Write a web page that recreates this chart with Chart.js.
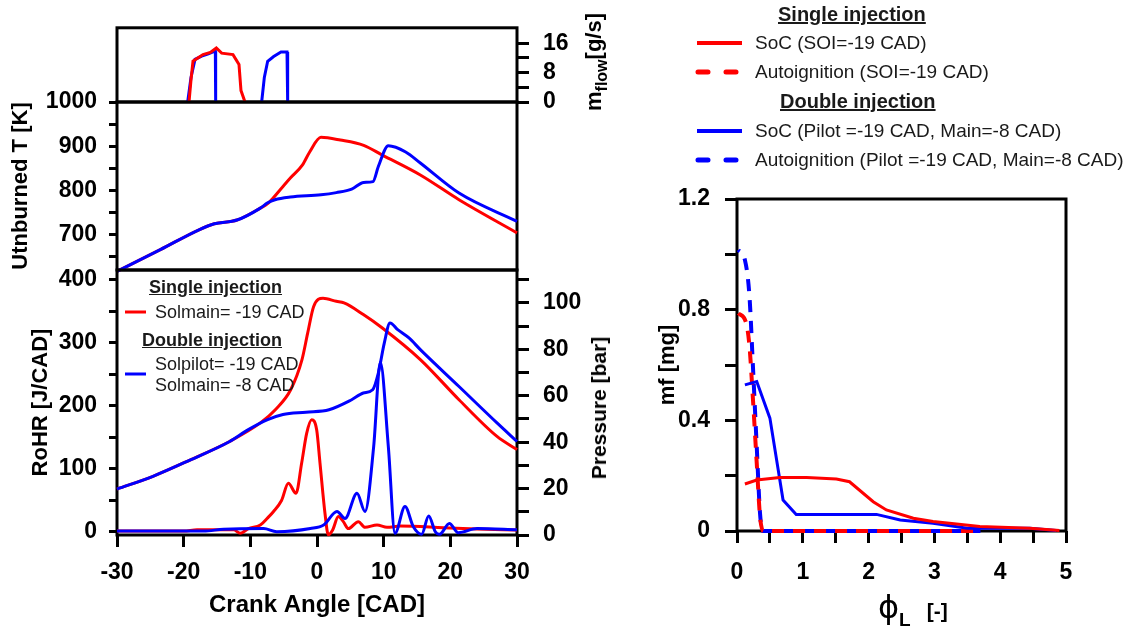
<!DOCTYPE html>
<html>
<head>
<meta charset="utf-8">
<script src="https://cdn.jsdelivr.net/npm/chart.js@4"></script>
<style>
  body { margin: 0; background: #fff; }
  #lienzo { position: relative; width: 1139px; height: 628px; overflow: hidden; font-family: "Liberation Sans", Arial, sans-serif; }
  canvas { position: absolute; left: 0; top: 0; }
  .txt { position: absolute; white-space: nowrap; color: #1a1a1a; line-height: 20px; }
  .tit { font-weight: bold; text-decoration: underline; }
  .rot { position: absolute; white-space: nowrap; font-weight: bold; color: #000; transform: translate(-50%, -50%) rotate(-90deg); }
  svg.muestra { position: absolute; overflow: visible; }
</style>
</head>
<body>
<div id="lienzo">
  <canvas id="gFlujo" width="1139" height="628"></canvas>
  <canvas id="gTemp" width="1139" height="628"></canvas>
  <canvas id="gCalor" width="1139" height="628"></canvas>
  <canvas id="gMasa" width="1139" height="628"></canvas>

  <!-- leyenda del panel de calor -->
  <div class="txt tit" style="left:149px; top:277px; font-size:18px;">Single injection</div>
  <svg class="muestra" style="left:0; top:0;" width="1" height="1">
    <line x1="125" y1="312" x2="146" y2="312" stroke="#ff0000" stroke-width="3"/>
    <line x1="125" y1="374" x2="146" y2="374" stroke="#0000ff" stroke-width="3"/>
  </svg>
  <div class="txt" style="left:155px; top:302px; font-size:18px;">Solmain= -19 CAD</div>
  <div class="txt tit" style="left:142px; top:330px; font-size:18px;">Double injection</div>
  <div class="txt" style="left:155px; top:354px; font-size:18px;">Solpilot= -19 CAD</div>
  <div class="txt" style="left:155px; top:375px; font-size:18px;">Solmain= -8 CAD</div>

  <!-- leyenda del panel derecho -->
  <div class="txt tit" style="left:778px; top:4px; font-size:20px;">Single injection</div>
  <svg class="muestra" style="left:0; top:0;" width="1" height="1">
    <line x1="697" y1="43" x2="742" y2="43" stroke="#ff0000" stroke-width="4"/>
    <line x1="698" y1="72" x2="742" y2="72" stroke="#ff0000" stroke-width="5" stroke-dasharray="10 18" stroke-linecap="round"/>
    <line x1="697" y1="131" x2="742" y2="131" stroke="#0000ff" stroke-width="4"/>
    <line x1="698" y1="160" x2="742" y2="160" stroke="#0000ff" stroke-width="5" stroke-dasharray="10 18" stroke-linecap="round"/>
  </svg>
  <div class="txt" style="left:755px; top:33px; font-size:19px;">SoC (SOI=-19 CAD)</div>
  <div class="txt" style="left:755px; top:62px; font-size:19px;">Autoignition (SOI=-19 CAD)</div>
  <div class="txt tit" style="left:780px; top:91px; font-size:20px;">Double injection</div>
  <div class="txt" style="left:755px; top:121px; font-size:19px;">SoC (Pilot =-19 CAD, Main=-8 CAD)</div>
  <div class="txt" style="left:755px; top:150px; font-size:19px;">Autoignition (Pilot =-19 CAD, Main=-8 CAD)</div>

  <!-- titulos de ejes que se leen de abajo hacia arriba -->
  <div class="rot" style="left:596px; top:62px; font-size:22px;">m<sub style="font-size:16px;">flow</sub>[g/s]</div>
  <div class="rot" style="left:599px; top:408px; font-size:21px;">Pressure [bar]</div>
  <div class="txt" style="left:878px; top:592px; line-height:30px; color:#000;">
    <span style="font-family:'DejaVu Sans'; font-size:32px;">&#981;</span><span style="font-weight:bold; font-size:19px; position:relative; top:8px;">L</span><span style="font-weight:bold; font-size:21px; margin-left:16px;">[-]</span>
  </div>
</div>

<script>
// Datos: caudal inyectado (g/s) vs angulo de ciguenal
const anguloFlujoSimple = [-19.2, -18.9, -18.6, -17.1, -16.0, -15.1, -14.3, -12.6, -11.7, -11.4, -10.8];
const flujoSimple = [0, 6, 11.1, 12.9, 13.5, 14.7, 13.3, 12.9, 10.2, 3.1, 0];
const anguloFlujoDoble = [-19.4, -18.9, -18.3, -17.3, -16.3, -15.4, -15.25, -15.2, null, -8.3, -7.9, -7.4, -6.5, -5.4, -4.5, -4.4];
const flujoDoble = [0, 6.7, 11.6, 12.5, 13.1, 13.8, 13.8, 0, null, 0, 6.7, 11.1, 12.4, 13.6, 13.6, 0];

// Temperatura sin quemar (K)
const anguloTempSimple = [-30, -23.5, -17.7, -15.4, -12, -8.5, -7.4, -5.1, -4, -2.2, -1.1, 0.6, 3.5, 7, 9.8, 15.5, 21.3, 30];
const tempSimple = [617, 666, 711, 724.5, 733, 760, 770, 809, 828, 857, 887, 920, 914, 902, 880, 835, 779, 704];
const anguloTempDoble = [-30, -23.5, -17.7, -15.4, -12, -8.5, -7.4, -6.3, -4, 0.6, 2.9, 5.2, 7, 8.4, 9.2, 10.7, 13.3, 15.5, 21.3, 30];
const tempDoble = [617, 666, 711, 724.5, 733, 760, 772, 779, 785, 790, 795, 803, 818, 820, 854, 901, 887, 862, 794, 730];

// Tasa de liberacion de calor (J/CAD)
const anguloCalorSimple = [-30, -20, -18, -12.5, -11.5, -10.3, -8.5, -7.4, -6.55, -5.3, -4.3, -3.15, -2.3, -1.55, -0.8, -0.05, 0.45, 1.2, 1.7, 2.35, 3.2, 3.95, 4.7, 6.2, 7.2, 9, 10.5, 12.5, 19, 24, 30];
const calorSimple = [1, 1, 3, 3, -2.5, 5, 10.6, 22, 31.8, 50, 77, 61, 109, 156, 177.6, 161.7, 109, 29, -5, 2.7, 24, 16, 5, 16, 7, 10.6, 7, 9, 6.4, 4.3, 2.7];
const anguloCalorDoble = [-30, -17, -14, -8, -6.05, -1, 1, 3, 4.2, 6, 7.2, 8.5, 9.5, 10.7, 11.7, 13.2, 14.45, 15.7, 16.75, 17.75, 18.4, 19.85, 21.2, 24, 30];
const calorDoble = [1, 1, 4, 5, 0, 5, 10.6, 32, 21, 61, 32, 135, 269, 135, -2.5, 40, 8, -4, 25, 0, -4, 13, -1.5, 5, 3];

// Presion en cilindro (bar)
const anguloPresionSimple = [-30, -24.6, -18.9, -13.1, -8.5, -6.25, -3.95, -2.25, -1.4, -0.5, 0.9, 2.9, 4.05, 6.95, 9.8, 15.5, 21.3, 27, 30];
const presionSimple = [19.8, 25.3, 32.5, 40.3, 48.3, 54, 62.6, 75.6, 87, 98.5, 102, 100.7, 100, 95, 89.2, 75.6, 58.3, 42.5, 36.8];
const anguloPresionDoble = [-30, -24.6, -18.9, -13.1, -10.3, -7.4, -5.1, -1.65, 1.8, 5.2, 6.95, 8.35, 9.2, 10.1, 10.95, 12.1, 13.8, 15.5, 21.3, 27, 30];
const presionDoble = [19.8, 25.3, 32.5, 40.3, 45.4, 49.7, 51.9, 52.9, 54, 58.3, 61.2, 62.6, 69.8, 82.8, 91.4, 88.5, 84.9, 79.9, 64, 48.3, 40.3];

// Masa de combustible (mg) vs dosado local phi_L
const phiSocSimple = [0.12, 0.3, 0.65, 1.06, 1.51, 1.71, 2.07, 2.27, 2.68, 2.98, 3.69, 4.45, 4.9];
const masaSocSimple = [0.17, 0.184, 0.193, 0.193, 0.188, 0.178, 0.106, 0.076, 0.046, 0.034, 0.016, 0.01, 0.002];
const phiSocDoble = [0.12, 0.3, 0.5, 0.7, 0.9, 2.12, 2.48, 2.98, 3.5, 4.45, 4.85];
const masaSocDoble = [0.528, 0.54, 0.408, 0.112, 0.06, 0.06, 0.04, 0.028, 0.01, 0.01, 0.002];
const phiAutoSimple = [0.02, 0.14, 0.19, 0.24, 0.3, 0.35, 0.4, 3.7];
const masaAutoSimple = [0.787, 0.751, 0.667, 0.486, 0.245, 0.052, 0, 0];
const phiAutoDoble = [0.02, 0.12, 0.19, 0.24, 0.3, 0.35, 0.39, 3.7];
const masaAutoDoble = [1.016, 0.98, 0.847, 0.606, 0.305, 0.064, 0, 0];

// Marcas de los ejes
const marcasAngulo = [-30, -20, -10, 0, 10, 20, 30];
const marcasFlujo = [0, 4, 8, 12, 16];
const etiquetasFlujo = [0, 8, 16];
const marcasTemp = [650, 700, 750, 800, 850, 900, 950, 1000];
const etiquetasTemp = [700, 800, 900, 1000];
const marcasCalor = [0, 50, 100, 150, 200, 250, 300, 350, 400];
const etiquetasCalor = [0, 100, 200, 300, 400];
const marcasPresion = [0, 10, 20, 30, 40, 50, 60, 70, 80, 90, 100, 110];
const etiquetasPresion = [0, 20, 40, 60, 80, 100];
const marcasPhi = [0, 0.5, 1, 1.5, 2, 2.5, 3, 3.5, 4, 4.5, 5];
const etiquetasPhi = [0, 1, 2, 3, 4, 5];
const marcasMasa = [0, 0.2, 0.4, 0.6, 0.8, 1.0, 1.2];
const etiquetasMasa = [0, 0.4, 0.8, 1.2];

const ROJO = "#ff0000";
const AZUL = "#0000ff";
const fuenteEje = { size: 23, weight: "bold" };

Chart.defaults.font.family = "'Liberation Sans', Arial, sans-serif";
Chart.defaults.color = "#000";

function puntos(xs, ys) {
  return xs.map((x, i) => (x === null ? { x: NaN, y: null } : { x: x, y: ys[i] }));
}

// Dibuja el recuadro negro alrededor del area del grafico (debajo de las curvas)
const marco = {
  id: "marco",
  beforeDatasetsDraw(chart) {
    const { ctx, chartArea: a } = chart;
    ctx.save();
    ctx.strokeStyle = "#000";
    ctx.lineWidth = 3;
    ctx.strokeRect(a.left, a.top, a.right - a.left, a.bottom - a.top);
    ctx.restore();
  }
};

function serie(data, color, extra) {
  return Object.assign({
    data: data,
    borderColor: color,
    borderWidth: 3,
    pointRadius: 0,
    fill: false,
    spanGaps: false,
    clip: 4,
    cubicInterpolationMode: "monotone"
  }, extra || {});
}

// Eje con marcas fijas y ancho/alto fijo
function eje(pos, min, max, marcas, etiquetas, tam, largo, relleno, titulo) {
  const vertical = pos === "left" || pos === "right";
  return {
    type: "linear",
    position: pos,
    min: min,
    max: max,
    display: true,
    afterBuildTicks: s => { s.ticks = marcas.map(v => ({ value: v })); },
    afterFit: s => { if (vertical) s.width = tam; else s.height = tam; },
    grid: { drawOnChartArea: false, drawTicks: true, tickLength: largo, tickWidth: 3, tickColor: "#000" },
    border: { display: false },
    ticks: {
      autoSkip: false,
      maxRotation: 0,
      minRotation: 0,
      padding: relleno,
      color: "#000",
      font: fuenteEje,
      callback: v => (etiquetas.some(e => Math.abs(e - v) < 1e-9) ? String(v) : "")
    },
    title: titulo || { display: false }
  };
}

function ejeOculto(min, max) {
  return { type: "linear", min: min, max: max, display: false };
}

const opcionesBase = {
  responsive: false,
  animation: false,
  plugins: { legend: { display: false }, tooltip: { enabled: false } }
};

// Panel superior: caudal de inyeccion
new Chart(document.getElementById("gFlujo"), {
  type: "line",
  data: {
    datasets: [
      serie(puntos(anguloFlujoSimple, flujoSimple), ROJO, { cubicInterpolationMode: "default", tension: 0, clip: 1 }),
      serie(puntos(anguloFlujoDoble, flujoDoble), AZUL, { cubicInterpolationMode: "default", tension: 0, clip: 1 })
    ]
  },
  options: Object.assign({}, opcionesBase, {
    layout: { padding: { left: 117, right: 1139 - 517 - 60, top: 26, bottom: 628 - 102 } },
    scales: {
      x: ejeOculto(-30, 30),
      y: eje("right", 0, 20.2, marcasFlujo, etiquetasFlujo, 60, 12, 14)
    }
  }),
  plugins: [marco]
});

// Panel medio: temperatura sin quemar
new Chart(document.getElementById("gTemp"), {
  type: "line",
  data: {
    datasets: [
      serie(puntos(anguloTempDoble, tempDoble), AZUL),
      serie(puntos(anguloTempSimple, tempSimple), ROJO)
    ]
  },
  options: Object.assign({}, opcionesBase, {
    layout: { padding: { left: 0, right: 1139 - 517, top: 102, bottom: 628 - 270 } },
    scales: {
      x: ejeOculto(-30, 30),
      y: eje("left", 620, 1000, marcasTemp, etiquetasTemp, 117, 8, 12,
        { display: true, text: "Utnburned T [K]", font: { size: 22, weight: "bold" }, color: "#000", padding: { top: 8, bottom: 0 } })
    }
  }),
  plugins: [marco]
});

// Panel inferior: liberacion de calor y presion
new Chart(document.getElementById("gCalor"), {
  type: "line",
  data: {
    datasets: [
      serie(puntos(anguloPresionDoble, presionDoble), AZUL, { yAxisID: "y2" }),
      serie(puntos(anguloPresionSimple, presionSimple), ROJO, { yAxisID: "y2" }),
      serie(puntos(anguloCalorDoble, calorDoble), AZUL, { yAxisID: "y" }),
      serie(puntos(anguloCalorSimple, calorSimple), ROJO, { yAxisID: "y" })
    ]
  },
  options: Object.assign({}, opcionesBase, {
    layout: { padding: { left: 0, right: 1139 - 517 - 80, top: 270, bottom: 0 } },
    scales: {
      x: eje("bottom", -30, 30, marcasAngulo, marcasAngulo, 93, 12, 12,
        { display: true, text: "Crank Angle [CAD]", font: { size: 24, weight: "bold" }, color: "#000", padding: { top: 0, bottom: 8 } }),
      y: eje("left", -5.2, 415.3, marcasCalor, etiquetasCalor, 117, 8, 12,
        { display: true, text: "RoHR [J/CAD]", font: { size: 22, weight: "bold" }, color: "#000", padding: { top: 28, bottom: 0 } }),
      y2: eje("right", 0, 114.2, marcasPresion, etiquetasPresion, 80, 12, 14)
    }
  }),
  plugins: [marco]
});

// Panel derecho: masa de combustible vs phi_L
new Chart(document.getElementById("gMasa"), {
  type: "line",
  data: {
    datasets: [
      serie(puntos(phiSocSimple, masaSocSimple), ROJO, { cubicInterpolationMode: "default", tension: 0 }),
      serie(puntos(phiSocDoble, masaSocDoble), AZUL, { cubicInterpolationMode: "default", tension: 0 }),
      serie(puntos(phiAutoSimple, masaAutoSimple), ROJO, { borderWidth: 4, borderDash: [12, 9] }),
      serie(puntos(phiAutoDoble, masaAutoDoble), AZUL, { borderWidth: 4, borderDash: [12, 9], borderDashOffset: 10 })
    ]
  },
  options: Object.assign({}, opcionesBase, {
    layout: { padding: { left: 737 - 90, right: 1139 - 1066, top: 199, bottom: 0 } },
    scales: {
      x: eje("bottom", 0, 5, marcasPhi, etiquetasPhi, 97, 12, 16),
      y: eje("left", 0, 1.2, marcasMasa, etiquetasMasa, 90, 12, 15,
        { display: true, text: "mf [mg]", font: { size: 22, weight: "bold" }, color: "#000", padding: { top: 8, bottom: 0 } })
    }
  }),
  plugins: [marco]
});
</script>
</body>
</html>
